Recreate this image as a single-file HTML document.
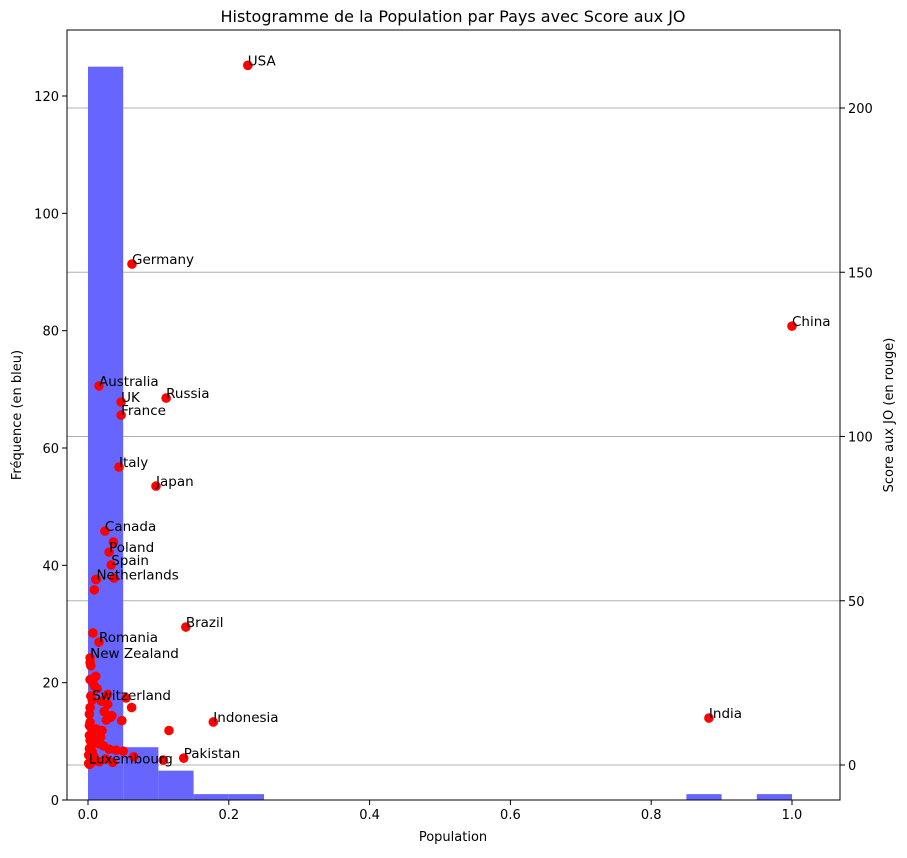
<!DOCTYPE html>
<html><head><meta charset="utf-8"><style>
body{margin:0;background:#fff}
svg{font-family:"DejaVu Sans","Liberation Sans",sans-serif}
</style></head><body>
<svg id="chart" width="907" height="853" xmlns="http://www.w3.org/2000/svg"></svg>
<script>
const binEdgesStart = [0,0.05,0.1,0.15,0.2,0.25,0.3,0.35,0.4,0.45,0.5,0.55,0.6,0.65,0.7,0.75,0.8,0.85,0.9,0.95];
const binCounts = [125,9,5,1,1,0,0,0,0,0,0,0,0,0,0,0,0,1,0,1];
const countries = ["USA","Germany","China","Australia","Russia","UK","France","Italy","Japan","Canada","Poland","Spain","Netherlands","Brazil","Romania","New Zealand","Switzerland","Indonesia","India","Pakistan","Luxembourg"];
const countryPop = [0.227,0.0625,1.0,0.0156,0.111,0.047,0.047,0.044,0.0966,0.024,0.030,0.033,0.012,0.139,0.0156,0.003,0.006,0.178,0.882,0.136,0.001];
const countryScore = [213,152.5,133.6,115.4,111.7,110.5,106.5,90.7,84.9,71.2,64.8,60.9,56.5,42,37.4,32.6,19.8,13.1,14.3,2.1,0.5];
const otherPop = [0.036,0.011,0.037,0.009,0.007,0.003,0.004,0.011,0.007,0.009,0.013,0.028,0.054,0.019,0.028,0.023,0.062,0.034,0.032,0.031,0.048,0.115,0.026,0.020,0.012,0.018,0.004,0.005,0.003,0.002,0.003,0.004,0.006,0.008,0.010,0.015,0.022,0.030,0.040,0.050,0.065,0.107,0.002,0.003,0.005,0.004,0.002,0.003,0.006,0.009,0.016,0.025,0.035,0.002,0.004,0.003,0.001,0.002,0.005,0.008];
const otherScore = [67.9,56.5,56.9,53.3,40.2,31.2,30.2,27,25,24,23.2,21.5,20.4,19.4,18.5,16.3,17.5,15,14.5,14.9,13.5,10.5,13.7,10.5,11,8.5,8,9,17.5,15.5,13,11.5,10,7.8,6.7,6.5,5.8,4.8,4.5,4.2,2.5,1.5,5,3.5,1.2,0.5,0.2,7.5,4,2,1,1.8,0.8,12,21,26,3,9,6,2.7];
const xTicks = [0,0.2,0.4,0.6,0.8,1.0];
const xTickLabels = ["0.0","0.2","0.4","0.6","0.8","1.0"];
const yLeftTicks = [0,20,40,60,80,100,120];
const yRightTicks = [0,50,100,150,200];

const svg = document.getElementById('chart');
const NS = 'http://www.w3.org/2000/svg';
const L=67,R=840,T=30,B=800;
const xS = v => 88 + v*704;
const yL = v => 800 - v*5.8667;
const yR = v => 765 - v*3.285;
function mk(tag, attrs, parent){const e=document.createElementNS(NS,tag);for(const k in attrs)e.setAttribute(k,attrs[k]);(parent||svg).appendChild(e);return e;}

yRightTicks.forEach(v=>{
  const g=mk('line',{x1:L,x2:R,y1:yR(v),y2:yR(v),stroke:'#b0b0b0','stroke-width':1});
  
  
});
binCounts.forEach((c,i)=>{
  if(!c)return;
  const x0=xS(binEdgesStart[i]), x1=xS(binEdgesStart[i]+0.05);
  const r=mk('rect',{x:x0,y:yL(c),width:x1-x0,height:yL(0)-yL(c),fill:'#6666ff'});
  
  
});
otherPop.forEach((p,i)=>{
  const c=mk('circle',{cx:xS(p),cy:yR(otherScore[i]),r:4.8,fill:'red'});
  
  
});
countries.forEach((n,i)=>{
  const c=mk('circle',{cx:xS(countryPop[i]),cy:yR(countryScore[i]),r:4.8,fill:'red'});
  
  
});
countries.forEach((n,i)=>{
  const t=mk('text',{x:xS(countryPop[i]),y:yR(countryScore[i]),'font-size':13.5,fill:'#000'});
  t.textContent=n;
  
  
});
const f=mk('rect',{x:L,y:T,width:R-L,height:B-T,fill:'none',stroke:'#000','stroke-width':1});


xTicks.forEach((v,i)=>{
  mk('line',{x1:xS(v),x2:xS(v),y1:B,y2:B+5,stroke:'#000'});
  const t=mk('text',{x:xS(v),y:B+19,'font-size':13,'text-anchor':'middle'});
  t.textContent=xTickLabels[i];
  
  
});
yLeftTicks.forEach(v=>{
  mk('line',{x1:L-5,x2:L,y1:yL(v),y2:yL(v),stroke:'#000'});
  const t=mk('text',{x:L-8,y:yL(v)+5,'font-size':13,'text-anchor':'end'});
  t.textContent=v;
  
  
});
yRightTicks.forEach(v=>{
  mk('line',{x1:R,x2:R+5,y1:yR(v),y2:yR(v),stroke:'#000'});
  const t=mk('text',{x:R+8,y:yR(v)+5,'font-size':13,'text-anchor':'start'});
  t.textContent=v;
  
  
});
let t;
t=mk('text',{x:453,y:22,'font-size':16,'text-anchor':'middle'});t.textContent='Histogramme de la Population par Pays avec Score aux JO';


t=mk('text',{x:453,y:841,'font-size':13,'text-anchor':'middle'});t.textContent='Population';


t=mk('text',{x:21,y:415,'font-size':13,'text-anchor':'middle',transform:'rotate(-90 21 415)'});t.textContent='Fréquence (en bleu)';


t=mk('text',{x:893,y:415,'font-size':13,'text-anchor':'middle',transform:'rotate(-90 893 415)'});t.textContent='Score aux JO (en rouge)';


</script>
</body></html>
